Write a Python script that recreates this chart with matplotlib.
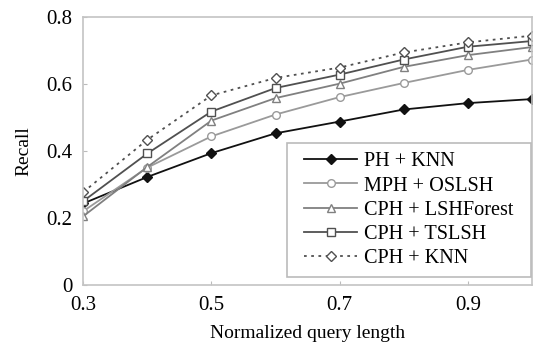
import numpy as np
import matplotlib.pyplot as plt
from matplotlib.patches import Rectangle

plt.rcParams['font.family'] = 'Liberation Serif'

query_len = [0.3, 0.4, 0.5, 0.6, 0.7, 0.8, 0.9, 1.0]
ph_knn = [0.243, 0.322, 0.393, 0.452, 0.487, 0.523, 0.542, 0.554]
mph_oslsh = [0.220, 0.350, 0.443, 0.508, 0.560, 0.602, 0.641, 0.672]
cph_lshforest = [0.205, 0.352, 0.490, 0.557, 0.600, 0.650, 0.685, 0.709]
cph_tslsh = [0.250, 0.392, 0.517, 0.587, 0.627, 0.672, 0.710, 0.727]
cph_knn = [0.277, 0.433, 0.565, 0.617, 0.648, 0.693, 0.723, 0.743]

fig = plt.figure(figsize=(5.34, 3.45), dpi=100)
ax = fig.add_axes([0.156, 0.174, 0.84, 0.778])

ax.plot(query_len, ph_knn, color='#111111', lw=1.3, marker='D', ms=5,
        mfc='#111111', mec='#111111', label='PH + KNN')
ax.plot(query_len, mph_oslsh, color='#9a9a9a', lw=1.3, marker='o', ms=5.5,
        mfc='white', mec='#9a9a9a', label='MPH + OSLSH')
ax.plot(query_len, cph_lshforest, color='#808080', lw=1.3, marker='^', ms=6,
        mfc='white', mec='#808080', label='CPH + LSHForest')
ax.plot(query_len, cph_tslsh, color='#505050', lw=1.3, marker='s', ms=5.5,
        mfc='white', mec='#505050', label='CPH + TSLSH')
ax.plot(query_len, cph_knn, color='#505050', lw=1.3, ls=(0, (1.5, 2.5)), marker='D', ms=5,
        mfc='white', mec='#505050', label='CPH + KNN')

ax.set_xlim(0.3, 1.0)
ax.set_ylim(0, 0.8)
ax.set_xticks([0.3, 0.5, 0.7, 0.9])
ax.set_yticks([0, 0.2, 0.4, 0.6, 0.8])
ax.set_xticklabels(['0.3', '0.5', '0.7', '0.9'])
ax.set_yticklabels(['0', '0.2', '0.4', '0.6', '0.8'])
ax.tick_params(direction='in', length=3, color='#bbbbbb', labelsize=15)
ax.tick_params(axis='x', pad=8)
ax.tick_params(axis='y', pad=8)
for s in ax.spines.values():
    s.set_color('#c4c4c4')
    s.set_linewidth(1.2)

ax.set_xlabel('Normalized query length', fontsize=14, labelpad=7)
ax.set_ylabel('Recall', fontsize=14, labelpad=10)

leg = ax.legend(loc='lower right', fontsize=14.6, handlelength=2.6, handletextpad=0.35,
                labelspacing=0.24, borderpad=0.35, frameon=False,
                bbox_to_anchor=(0.998, 0.0))
leg.set_zorder(5)

# frame around the legend, with more padding at the sides than top/bottom
fig.canvas.draw()
bb = leg.get_window_extent().transformed(fig.transFigure.inverted())
px = 10 / fig.bbox.width
py = 2 / fig.bbox.height
frame = Rectangle((bb.x0 - px, bb.y0 - py), bb.width + 2 * px, bb.height + 2 * py,
                  transform=fig.transFigure, facecolor='white',
                  edgecolor='#bbbbbb', lw=1.2, zorder=4, clip_on=False)
ax.add_patch(frame)

plt.savefig('out.png', dpi=100)
